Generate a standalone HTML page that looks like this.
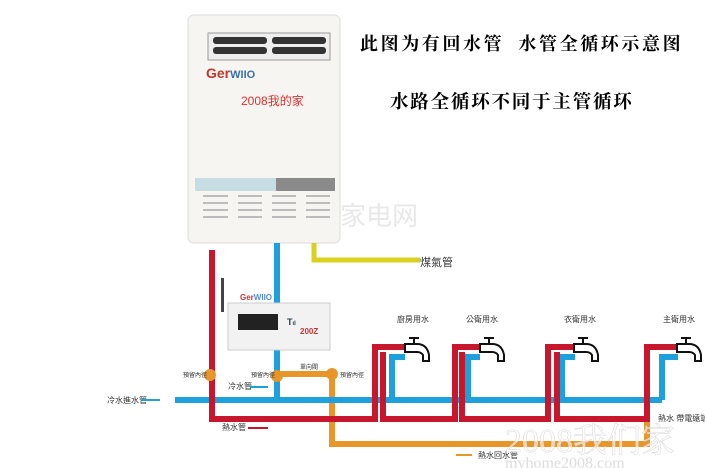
<!DOCTYPE html>
<html><head><meta charset="utf-8"><style>
html,body{margin:0;padding:0;background:#fff;width:705px;height:468px;overflow:hidden}
</style></head><body>
<svg width="705" height="468" xmlns="http://www.w3.org/2000/svg" font-family="Liberation Sans, Noto Sans CJK TC, sans-serif">
<!-- heater -->
<rect x="188" y="15" width="152" height="228" rx="6" fill="#f7f5f1" stroke="#ddd"/>
<rect x="208" y="33" width="122" height="27" fill="#eee" stroke="#999"/>
<rect x="213" y="37" width="54" height="7" rx="3" fill="#333"/>
<rect x="272" y="37" width="54" height="7" rx="3" fill="#333"/>
<rect x="213" y="47" width="54" height="7" rx="3" fill="#333"/>
<rect x="272" y="47" width="54" height="7" rx="3" fill="#333"/>
<text x="206" y="78" font-size="14" font-weight="bold" fill="#c0392b">Ger<tspan fill="#3a6fb0" font-size="11">WIIO</tspan></text>
<text x="241" y="105" font-size="12" fill="#d33">2008我的家</text>
<rect x="195" y="178" width="140" height="13" fill="#c6dde3"/>
<rect x="276" y="178" width="59" height="13" fill="#8a8a8a"/>
<g stroke="#aaa" stroke-width="1.5">
<line x1="203" y1="196" x2="228" y2="196"/><line x1="238" y1="196" x2="262" y2="196"/><line x1="272" y1="196" x2="296" y2="196"/><line x1="306" y1="196" x2="330" y2="196"/>
<line x1="203" y1="203" x2="228" y2="203"/><line x1="238" y1="203" x2="262" y2="203"/><line x1="272" y1="203" x2="296" y2="203"/><line x1="306" y1="203" x2="330" y2="203"/>
<line x1="203" y1="210" x2="228" y2="210"/><line x1="238" y1="210" x2="262" y2="210"/><line x1="272" y1="210" x2="296" y2="210"/><line x1="306" y1="210" x2="330" y2="210"/>
<line x1="203" y1="217" x2="228" y2="217"/><line x1="238" y1="217" x2="262" y2="217"/><line x1="272" y1="217" x2="296" y2="217"/><line x1="306" y1="217" x2="330" y2="217"/>
</g>
<text x="340" y="225" font-size="26" fill="#e8e8e8">家电网</text>
<!-- gas -->
<path d="M314 243 V260 H420" fill="none" stroke="#d9d020" stroke-width="5"/>
<text x="420" y="266" font-size="11" fill="#333">煤氣管</text>
<!-- texts -->
<text x="360" y="50" font-size="18" font-weight="bold" letter-spacing="2.6" font-family="Noto Serif CJK SC, serif">此图为有回水管&#160;&#160;水管全循环示意图</text>
<text x="390" y="108" font-size="18.5" font-weight="bold" letter-spacing="1.8" font-family="Noto Serif CJK SC, serif">水路全循环不同于主管循环</text>
<!-- pipes -->
<g fill="none" stroke-width="6">
<path d="M332 374 V444 H647 V415" stroke="#e8962a"/>
<path d="M277 374 H332" stroke="#e8962a"/>
<path d="M175 400 H662" stroke="#1ea0dd"/>
<path d="M277 243 V400" stroke="#1ea0dd"/>
<path d="M392 400 V357 H405 M468 400 V357 H480 M562 400 V357 H575 M662 400 V357 H678" stroke="#1ea0dd"/>
<path d="M212 250 V419 H375 V347 H405" stroke="#c8172c"/>
<path d="M383 352 V419 H455 V347 H480" stroke="#c8172c"/>
<path d="M462 352 V419 H548 V347 H575" stroke="#c8172c"/>
<path d="M557 352 V419 H647 V347 H678" stroke="#c8172c"/>
</g>
<circle cx="210" cy="375" r="6" fill="#e8962a"/>
<circle cx="277" cy="376" r="6" fill="#e8962a"/>
<circle cx="332" cy="374" r="6" fill="#e8962a"/>
<!-- pump box -->
<rect x="221" y="278" width="3" height="34" fill="#444"/>
<text x="240" y="300" font-size="8" fill="#c33" font-weight="bold">Ger<tspan fill="#5a8ed0">WIIO</tspan></text>
<rect x="228" y="303" width="102" height="47" fill="#f2f2f2" stroke="#ccc"/>
<rect x="238" y="314" width="40" height="16" fill="#222"/>
<text x="287" y="325" font-size="9" font-weight="bold" fill="#245">T<tspan font-size="6">ıl</tspan></text>
<text x="300" y="334" font-size="8" font-weight="bold" fill="#c33">200Z</text>
<!-- faucets -->
<g fill="#fff" stroke="#111" stroke-width="2">
<g transform="translate(403,335)"><path d="M2 9 H14 Q24 9 26 20 V26 H20 V20 Q18 17 14 17 H2 Z"/><path d="M11 9 V3 M6 3 H16"/></g>
<g transform="translate(478,335)"><path d="M2 9 H14 Q24 9 26 20 V26 H20 V20 Q18 17 14 17 H2 Z"/><path d="M11 9 V3 M6 3 H16"/></g>
<g transform="translate(572,335)"><path d="M2 9 H14 Q24 9 26 20 V26 H20 V20 Q18 17 14 17 H2 Z"/><path d="M11 9 V3 M6 3 H16"/></g>
<g transform="translate(675,335)"><path d="M2 9 H14 Q24 9 26 20 V26 H20 V20 Q18 17 14 17 H2 Z"/><path d="M11 9 V3 M6 3 H16"/></g>
</g>
<g font-size="8" fill="#333">
<text x="397" y="322">廚房用水</text><text x="466" y="322">公衛用水</text><text x="564" y="322">衣衛用水</text><text x="663" y="322">主衛用水</text>
<text x="107" y="403">冷水進水管</text><text x="183" y="377" font-size="6">預留內徑</text><text x="251" y="377" font-size="6">預留內徑</text>
<text x="300" y="369" font-size="6">單向閥</text><text x="340" y="377" font-size="6">預留內徑</text>
<text x="228" y="389">冷水管</text><text x="222" y="430">熱水管</text>
<text x="478" y="458">熱水回水管</text><text x="658" y="421">熱水 帶電遠端</text>
</g>
<path d="M250 387 H268" stroke="#1ea0dd" stroke-width="2"/><path d="M142 400 H160" stroke="#1ea0dd" stroke-width="2"/>
<path d="M248 428 H268" stroke="#c8172c" stroke-width="2"/><path d="M456 455 H472" stroke="#e8962a" stroke-width="2"/>
<text x="505" y="452" font-size="34" fill="#fff" fill-opacity="0.6" stroke="#ddd" stroke-width="0.6" font-family="Liberation Serif, Noto Serif CJK SC, serif">2008我们家</text>
<text x="505" y="468" font-size="16" fill="#ddd" font-family="Liberation Serif, serif">myhome2008.com</text>
</svg>
</body></html>
